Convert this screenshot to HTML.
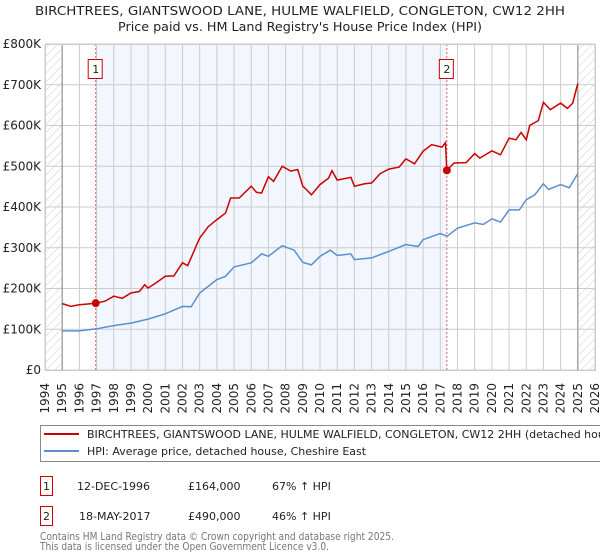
<!DOCTYPE html>
<html><head><meta charset="utf-8"><style>
body{margin:0;background:#fff;font-family:"DejaVu Sans","Liberation Sans",sans-serif;}
#wrap{position:relative;width:600px;height:560px;overflow:hidden;}
</style></head><body><div id="wrap">
<svg id="svg" width="600" height="560" xmlns="http://www.w3.org/2000/svg" font-family="DejaVu Sans, Liberation Sans, sans-serif">
<defs><pattern id="hatch" width="6" height="6" patternUnits="userSpaceOnUse" patternTransform="rotate(45)"><line x1="0" y1="0" x2="0" y2="6" stroke="#ccc" stroke-width="1"/></pattern></defs>
<text x="35" y="15" font-size="12" fill="#222" textLength="530" lengthAdjust="spacingAndGlyphs">BIRCHTREES, GIANTSWOOD LANE, HULME WALFIELD, CONGLETON, CW12 2HH</text>
<text x="118" y="31" font-size="12" fill="#222" textLength="364" lengthAdjust="spacingAndGlyphs">Price paid vs. HM Land Registry's House Price Index (HPI)</text>
<g id="plot"></g>
<rect x="40.5" y="425.5" width="570" height="36" fill="#fff" stroke="#888"/>
<line x1="44" y1="434" x2="79" y2="434" stroke="#cc0000" stroke-width="2"/>
<text x="87" y="438" font-size="11" fill="#222">BIRCHTREES, GIANTSWOOD LANE, HULME WALFIELD, CONGLETON, CW12 2HH (detached house)</text>
<line x1="44" y1="451" x2="79" y2="451" stroke="#5b8fd0" stroke-width="2"/>
<text x="87" y="455" font-size="11" fill="#222">HPI: Average price, detached house, Cheshire East</text>
<rect x="40.5" y="476.5" width="12" height="19" fill="#fff" stroke="#cc0000"/>
<text x="46.5" y="490" text-anchor="middle" font-size="11" fill="#222">1</text>
<text x="77" y="490" font-size="11" fill="#222">12-DEC-1996</text>
<text x="188" y="490" font-size="11" fill="#222">£164,000</text>
<text x="272" y="490" font-size="11" fill="#222">67% ↑ HPI</text>
<rect x="40.5" y="506.5" width="12" height="19" fill="#fff" stroke="#cc0000"/>
<text x="46.5" y="520" text-anchor="middle" font-size="11" fill="#222">2</text>
<text x="79" y="520" font-size="11" fill="#222">18-MAY-2017</text>
<text x="188" y="520" font-size="11" fill="#222">£490,000</text>
<text x="272" y="520" font-size="11" fill="#222">46% ↑ HPI</text>
<text x="40" y="540" font-size="10.5" fill="#777" textLength="354" lengthAdjust="spacingAndGlyphs">Contains HM Land Registry data © Crown copyright and database right 2025.</text>
<text x="40" y="550" font-size="10.5" fill="#777" textLength="289" lengthAdjust="spacingAndGlyphs">This data is licensed under the Open Government Licence v3.0.</text>
</svg></div>
<script>
const yTicks=[0,100000,200000,300000,400000,500000,600000,700000,800000];
const yTickLabels=["£0","£100K","£200K","£300K","£400K","£500K","£600K","£700K","£800K"];
const xYears=[1994,1995,1996,1997,1998,1999,2000,2001,2002,2003,2004,2005,2006,2007,2008,2009,2010,2011,2012,2013,2014,2015,2016,2017,2018,2019,2020,2021,2022,2023,2024,2025,2026];
const saleDates=[1996.95,2017.38];
const salePrices=[164000,490000];
const hpiDates=[1995,1996,1997,1998,1999,2000,2001,2002,2002.5,2003,2004,2004.5,2005,2006,2006.6,2007,2007.8,2008.5,2009,2009.5,2010,2010.6,2011,2011.8,2012,2013,2014,2015,2015.7,2016,2017,2017.4,2018,2019,2019.5,2020,2020.5,2021,2021.6,2022,2022.5,2023,2023.3,2024,2024.5,2025];
const hpiValues=[96000,96000,101000,109000,115000,125000,138000,156000,155000,189000,222000,230000,253000,263000,285000,279000,305000,294000,264000,258000,279000,294000,281000,285000,271000,275000,291000,308000,303000,320000,335000,328000,348000,361000,357000,371000,363000,393000,393000,418000,430000,457000,443000,455000,447000,482000];
const propDates=[1995,1995.5,1996,1996.95,1997.5,1998,1998.5,1999,1999.5,1999.8,2000,2000.5,2001,2001.5,2002,2002.3,2002.7,2003,2003.5,2004,2004.5,2004.8,2005.3,2006,2006.3,2006.6,2007,2007.3,2007.8,2008.3,2008.7,2009,2009.2,2009.5,2010,2010.5,2010.7,2011,2011.8,2012,2012.6,2013,2013.5,2014,2014.6,2015,2015.5,2016,2016.5,2017.1,2017.3,2017.38,2017.8,2018.5,2019,2019.3,2020,2020.5,2021,2021.4,2021.7,2022,2022.2,2022.7,2023,2023.4,2024,2024.4,2024.7,2025];
const propValues=[163000,156000,160000,164000,169000,181000,176000,189000,193000,209000,201000,215000,230000,231000,263000,256000,295000,324000,352000,369000,385000,422000,422000,451000,436000,434000,474000,463000,500000,488000,492000,451000,443000,430000,455000,471000,489000,466000,473000,451000,457000,459000,482000,493000,498000,518000,506000,537000,553000,547000,558000,490000,508000,509000,531000,520000,538000,528000,569000,565000,583000,565000,600000,612000,657000,639000,655000,642000,655000,703000];

const L=45,R=595,T=44,B=370;
const xS=y=>L+(y-1994)/(2026-1994)*(R-L);
const yS=v=>B-v/800000*(B-T);
const NS="http://www.w3.org/2000/svg";
const g=document.getElementById('plot');
function mk(t,a,p){const e=document.createElementNS(NS,t);for(const k in a)e.setAttribute(k,a[k]);(p||g).appendChild(e);return e;}
let e;
e=mk('rect',{x:xS(saleDates[0]),y:T,width:xS(saleDates[1])-xS(saleDates[0]),height:B-T,fill:'#f2f6fe'});


e=mk('rect',{x:L,y:T,width:xS(1995)-L,height:B-T,fill:'url(#hatch)'});


e=mk('rect',{x:xS(2025),y:T,width:R-xS(2025),height:B-T,fill:'url(#hatch)'});


xYears.forEach(y=>{
  e=mk('line',{x1:xS(y),x2:xS(y),y1:T,y2:B,stroke:'#ccc','stroke-width':1});
  
  
  e=mk('text',{x:0,y:0,transform:`translate(${xS(y)+4},383) rotate(-90)`,'text-anchor':'end','font-size':12,fill:'#222'});
  e.textContent=y;
  
  
});
yTicks.forEach((v,i)=>{
  e=mk('line',{x1:L,x2:R,y1:yS(v),y2:yS(v),stroke:'#ccc','stroke-width':1});
  
  
  e=mk('text',{x:41,y:yS(v)+4,'text-anchor':'end','font-size':12,fill:'#222'});
  e.textContent=yTickLabels[i];
  
  
});
[1995,2025].forEach(y=>{e=mk('line',{x1:xS(y),x2:xS(y),y1:T,y2:B,stroke:'#888','stroke-width':1});

});
saleDates.forEach((d,i)=>{
  e=mk('line',{x1:xS(d),x2:xS(d),y1:T,y2:B,stroke:'#e06060','stroke-width':1,'stroke-dasharray':'2,2'});
  
  
  e=mk('rect',{x:xS(d)-7.5,y:59.5,width:14,height:19,fill:'#fff',stroke:'#cc0000'});
  
  
  e=mk('text',{x:xS(d),y:73,'text-anchor':'middle','font-size':11,fill:'#222'});
  e.textContent=String(i+1);
  
  
});
const pts=(ds,vs)=>ds.map((d,i)=>xS(d).toFixed(1)+','+yS(vs[i]).toFixed(1)).join(' ');
e=mk('polyline',{points:pts(hpiDates,hpiValues),fill:'none',stroke:'#5b8fd0','stroke-width':1.5});


e=mk('polyline',{points:pts(propDates,propValues),fill:'none',stroke:'#cc0000','stroke-width':1.5});


saleDates.forEach((d,i)=>{
  e=mk('circle',{cx:xS(d),cy:yS(salePrices[i]),r:4,fill:'#cc0000'});
  
  
});
e=mk('rect',{x:L+0.5,y:T+0.5,width:R-L,height:B-T,fill:'none',stroke:'#ccc'});


</script></body></html>
